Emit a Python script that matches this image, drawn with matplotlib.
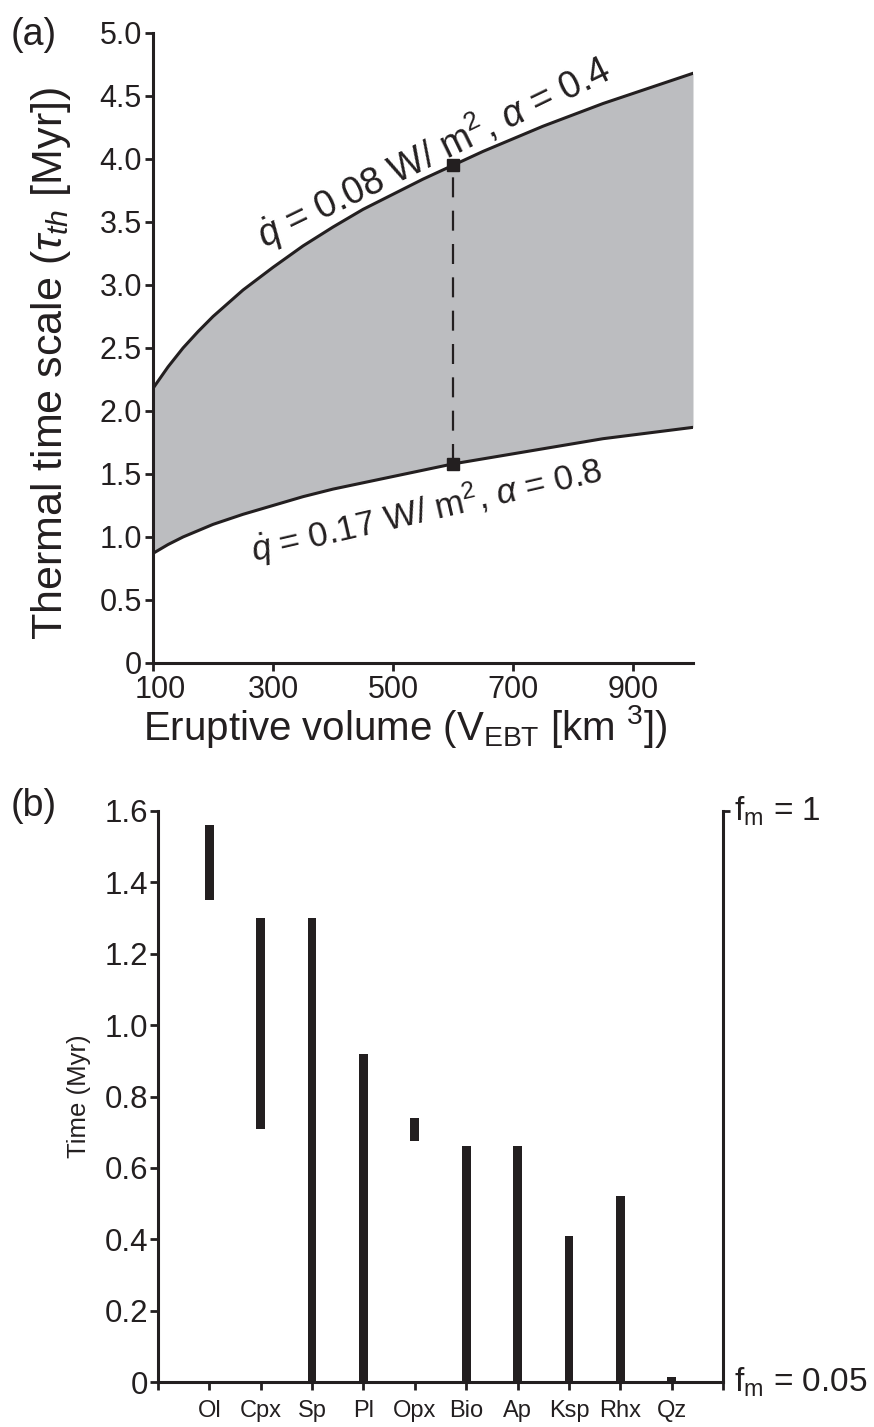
import numpy as np
import matplotlib
matplotlib.use('Agg')
import matplotlib.pyplot as plt
from matplotlib.transforms import ScaledTranslation

plt.rcParams['font.family'] = ['Liberation Sans', 'DejaVu Sans']
plt.rcParams['mathtext.fontset'] = 'custom'
plt.rcParams['mathtext.rm'] = 'Liberation Sans'
plt.rcParams['mathtext.it'] = 'Liberation Sans:italic'
plt.rcParams['mathtext.bf'] = 'Liberation Sans:bold'

INK = '#231f20'
FILL = '#bcbdc0'

# Panel (a): thermal time scale vs eruptive volume
volume = [100, 125, 150, 175, 200, 250, 300, 350, 400, 450, 500,
          550, 600, 650, 700, 750, 800, 850, 900, 950, 1000]
tau_low_flux = [2.18, 2.35, 2.50, 2.63, 2.75, 2.96, 3.14, 3.31, 3.46, 3.60, 3.72,
                3.84, 3.95, 4.06, 4.16, 4.26, 4.35, 4.44, 4.52, 4.60, 4.68]
tau_high_flux = [0.87, 0.94, 1.00, 1.05, 1.10, 1.18, 1.25, 1.32, 1.38, 1.43, 1.48,
                 1.53, 1.58, 1.62, 1.66, 1.70, 1.74, 1.78, 1.81, 1.84, 1.87]
ebt_volume = 600
ebt_tau = [1.58, 3.95]

# Panel (b): mineral crystallisation windows (Myr)
minerals = ['Ol', 'Cpx', 'Sp', 'Pl', 'Opx', 'Bio', 'Ap', 'Ksp', 'Rhx', 'Qz']
t_start = [1.35, 0.71, 0.0, 0.0, 0.675, 0.0, 0.0, 0.0, 0.0, 0.0]
t_end = [1.56, 1.30, 1.30, 0.92, 0.74, 0.66, 0.66, 0.41, 0.52, 0.015]

fig = plt.figure(figsize=(8.74, 14.27), dpi=100)

# ---------------- (a) ----------------
ax = fig.add_axes([0.1751, 0.5354, 0.6178, 0.4415])
ax.fill_between(volume, tau_high_flux, tau_low_flux, color=FILL, lw=0)
ax.plot(volume, tau_low_flux, color=INK, lw=2.2)
ax.plot(volume, tau_high_flux, color=INK, lw=2.2)
ax.plot([ebt_volume, ebt_volume], ebt_tau, color=INK, lw=1.6, dashes=(9, 6))
ax.plot([ebt_volume, ebt_volume], ebt_tau, 's', color=INK, ms=9, clip_on=False)

ax.text(568, 4.05, r'$\dot{q}$ = 0.08 W/ m$^2$, $\alpha$ = 0.4', rotation=26,
        ha='center', va='center', fontsize=27, color=INK)
ax.text(556, 1.21, r'$\dot{q}$ = 0.17 W/ m$^2$, $\alpha$ = 0.8', rotation=13,
        ha='center', va='center', fontsize=25, color=INK)

ax.set_xlim(100, 1000)
ax.set_ylim(0, 5)
ax.set_xticks([100, 300, 500, 700, 900])
ax.set_yticks(np.arange(0, 5.01, 0.5))
ax.set_yticklabels(['0'] + ['%.1f' % v for v in np.arange(0.5, 5.01, 0.5)])
for s in ['top', 'right']:
    ax.spines[s].set_visible(False)
for s in ['left', 'bottom']:
    ax.spines[s].set_linewidth(2.2)
    ax.spines[s].set_color(INK)
ax.tick_params(axis='both', direction='out', length=6, width=2, color=INK,
               labelcolor=INK)
ax.tick_params(axis='y', labelsize=22, pad=2)
ax.tick_params(axis='x', labelsize=22, pad=3)
# first x label sits a little right of its tick, clear of the "0"
first = ax.get_xticklabels()[0]
first.set_transform(first.get_transform() + ScaledTranslation(0.07, 0, fig.dpi_scale_trans))
ax.set_ylabel(r'Thermal time scale ($\tau_{th}$ [Myr])', fontsize=31, color=INK)
ax.yaxis.set_label_coords(-0.148, 0.475)
ax.set_xlabel(r'Eruptive volume (V$_{\rm EBT}$ [km $^3$])', fontsize=29, color=INK)
ax.xaxis.set_label_coords(0.468, -0.063)
fig.text(0.012, 0.988, '(a)', fontsize=27, color=INK, va='top', ha='left')

# ---------------- (b) ----------------
bx = fig.add_axes([0.1808, 0.0315, 0.6465, 0.4002])
pos = np.arange(1, len(minerals) + 1)
heights = [e - s for s, e in zip(t_start, t_end)]
bx.bar(pos, heights, bottom=t_start, width=0.17, color=INK, lw=0)

bx.set_xlim(0, 11)
bx.set_ylim(0, 1.6)
bx.set_xticks(np.arange(0, 12))
bx.set_xticklabels([''] + minerals + [''])
bx.set_yticks(np.arange(0, 1.61, 0.2))
bx.set_yticklabels(['0'] + ['%.1f' % v for v in np.arange(0.2, 1.61, 0.2)])
bx.spines['top'].set_visible(False)
for s in ['left', 'bottom', 'right']:
    bx.spines[s].set_linewidth(2.2)
    bx.spines[s].set_color(INK)
bx.tick_params(axis='both', direction='out', length=6, width=2, color=INK,
               labelcolor=INK)
bx.tick_params(axis='y', labelsize=22.5, pad=1)
bx.tick_params(axis='x', labelsize=17, pad=7)
bx.set_ylabel('Time (Myr)', fontsize=18.5, color=INK, labelpad=10)

# melt fraction markers on the right
bx2 = bx.twinx()
bx2.set_ylim(0, 1.6)
bx2.set_yticks([1.6])
bx2.set_yticklabels([''])
bx2.tick_params(axis='y', direction='out', length=5, width=2, color=INK)
for s in ['top', 'left', 'bottom', 'right']:
    bx2.spines[s].set_visible(False)
ytr = bx.get_yaxis_transform()
bx.text(1.02, 1.6, r'f$_{\rm m}$ = 1', transform=ytr, fontsize=24, color=INK,
        ha='left', va='center')
bx.text(1.02, 0.0, r'f$_{\rm m}$ = 0.05', transform=ytr, fontsize=24, color=INK,
        ha='left', va='center')
fig.text(0.012, 0.448, '(b)', fontsize=27, color=INK, va='top', ha='left')

fig.savefig('out.png', dpi=100)
